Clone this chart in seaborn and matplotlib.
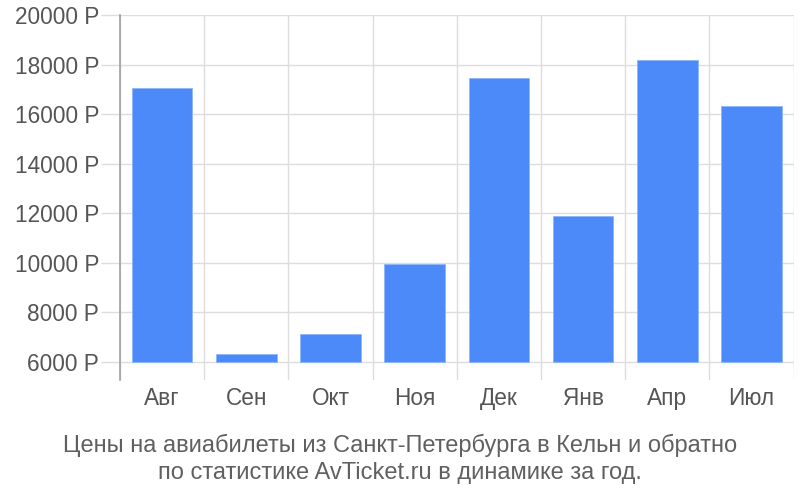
import matplotlib
matplotlib.use('Agg')
import matplotlib.pyplot as plt
import seaborn as sns
import pandas as pd
from matplotlib.ticker import FuncFormatter, MultipleLocator, FixedLocator

# данные
months = ['Авг', 'Сен', 'Окт', 'Ноя', 'Дек', 'Янв', 'Апр', 'Июл']
prices = [17050, 6320, 7130, 9950, 17450, 11900, 18180, 16320]
title_lines = ['Цены на авиабилеты из Санкт-Петербурга в Кельн и обратно',
               'по статистике AvTicket.ru в динамике за год.']

base = 6000

sns.set_theme(style='white')
plt.rcParams['font.family'] = ['Liberation Sans', 'DejaVu Sans']

df = pd.DataFrame({'month': months, 'price': prices})

fig = plt.figure(figsize=(8, 5), dpi=100)
ax = fig.add_axes([0.15, 0.24, 0.842, 0.73])

sns.barplot(data=df, x='month', y='price', color='#4d8af9', saturation=1,
            width=0.72, edgecolor='#8fb5fb', linewidth=0.6, ax=ax, zorder=3)

# столбцы начинаются от 6000
for p in ax.patches:
    h = p.get_height()
    p.set_y(base)
    p.set_height(h - base)

ax.set_xlim(-0.5, len(months) - 0.5)
ax.set_ylim(5270, 20000)
ax.yaxis.set_major_locator(MultipleLocator(2000))
ax.yaxis.set_major_formatter(FuncFormatter(lambda v, pos: f'{int(v)} Р' if v >= base else ''))
ax.xaxis.set_minor_locator(FixedLocator([i - 0.5 for i in range(len(months) + 1)]))

ax.grid(axis='y', which='major', color='#dddddd', linewidth=1, zorder=0)
ax.grid(axis='x', which='minor', color='#dddddd', linewidth=1, zorder=0)
ax.grid(axis='x', which='major', visible=False)

for s in ['top', 'right', 'bottom']:
    ax.spines[s].set_visible(False)
ax.spines['left'].set_color('#a0a0a0')
ax.spines['left'].set_linewidth(1.2)

ax.tick_params(axis='y', which='major', length=14, color='#dddddd', width=1,
               pad=1, labelsize=16.3, labelcolor='#555555', left=True)
ax.tick_params(axis='x', which='both', length=0, pad=5, labelsize=16.3, labelcolor='#555555')
ax.set_xlabel('')
ax.set_ylabel('')

fig.text(0.5, 0.083, '\n'.join(title_lines), ha='center', va='center',
         fontsize=17, color='#606060', linespacing=1.3,
         family=['Liberation Sans Narrow', 'Liberation Sans', 'DejaVu Sans'])

fig.savefig('out.png', dpi=100)
